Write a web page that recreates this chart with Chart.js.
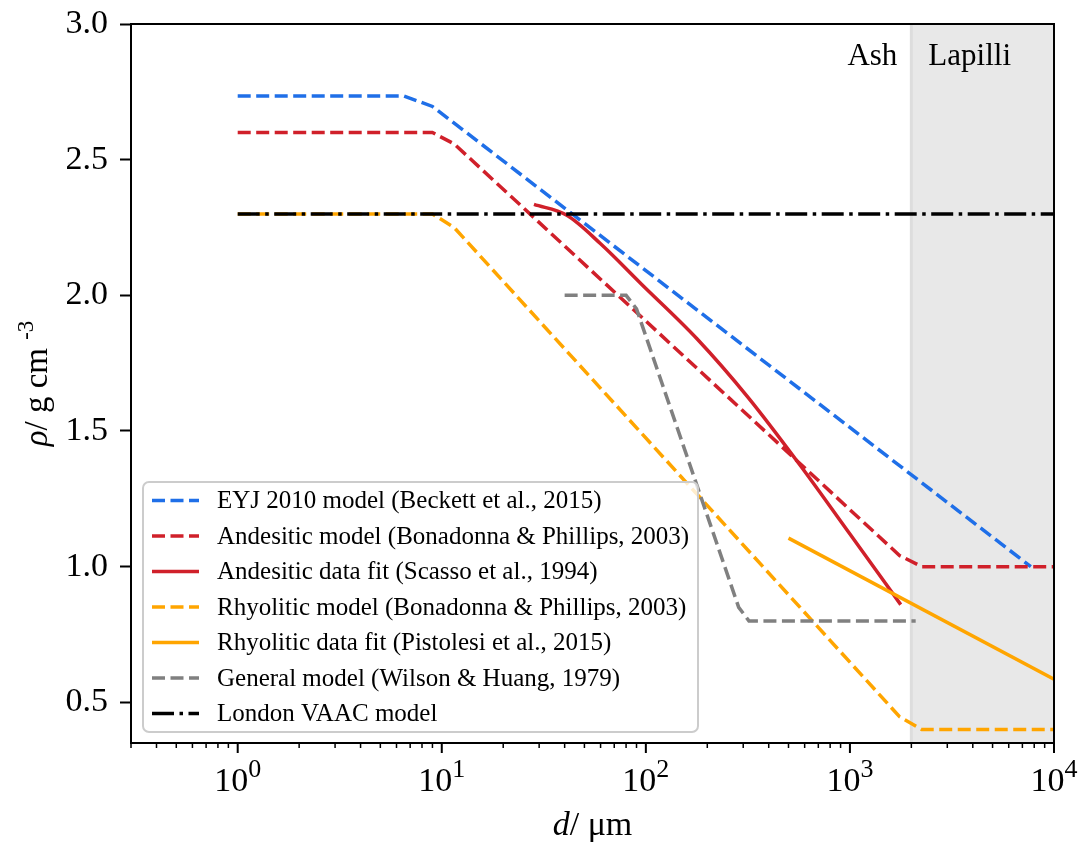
<!DOCTYPE html>
<html>
<head>
<meta charset="utf-8">
<script src="https://cdn.jsdelivr.net/npm/chart.js@4.4.0/dist/chart.umd.min.js"></script>
<style>
  html, body { margin: 0; padding: 0; background: #fff; }
  #wrap { width: 1089px; height: 842px; }
</style>
</head>
<body>
<div id="wrap"><canvas id="chart" width="1089" height="842"></canvas></div>
<script>
// grain size d (µm) and density rho (g/cm3)
const eyjD = [1, 6.5, 9, 7700];
const eyjRho = [2.735, 2.735, 2.696, 1.0];
const andModelD = [1, 9, 11.5, 1750, 2250, 10000];
const andModelRho = [2.6, 2.6, 2.558, 1.041, 1.0, 1.0];
const andFitD = [28.3, 41, 60, 95.5, 178, 316, 575, 1000, 1774];
const andFitRho = [2.335, 2.295, 2.19, 2.04, 1.84, 1.625, 1.37, 1.12, 0.86];
const rhyModelD = [1, 9, 11.5, 1750, 2250, 10000];
const rhyModelRho = [2.3, 2.3, 2.25, 0.447, 0.4, 0.4];
const rhyFitD = [500, 10000];
const rhyFitRho = [1.105, 0.585];
const generalD = [40, 80, 90, 285, 320, 2100];
const generalRho = [2.0, 2.0, 1.95, 0.85, 0.8, 0.8];
const vaacD = [1, 10000];
const vaacRho = [2.3, 2.3];

const seriesLabels = [
  'EYJ 2010 model (Beckett et al., 2015)',
  'Andesitic model (Bonadonna & Phillips, 2003)',
  'Andesitic data fit (Scasso et al., 1994)',
  'Rhyolitic model (Bonadonna & Phillips, 2003)',
  'Rhyolitic data fit (Pistolesi et al., 2015)',
  'General model (Wilson & Huang, 1979)',
  'London VAAC model'
];

const yTicks = [0.5, 1.0, 1.5, 2.0, 2.5, 3.0];
const xMajor = [1, 10, 100, 1000, 10000];
const xMajorExp = ['0', '1', '2', '3', '4'];
const ashLapilliBoundary = 2000;

const FONT = '"Liberation Serif", "DejaVu Serif", serif';
const DASH = [13, 5.5];
const DASHDOT = [22, 5.5, 3.5, 5.5];

function pts(xs, ys) {
  return xs.map((x, i) => ({ x: x, y: ys[i] }));
}

// minor ticks of the log axis
const xMinor = [];
[0.3, 0.4, 0.5, 0.6, 0.7, 0.8, 0.9].forEach(v => xMinor.push(v));
for (let k = 0; k < 4; k++) {
  for (let m = 2; m <= 9; m++) xMinor.push(m * Math.pow(10, k));
}

const datasets = [
  { label: seriesLabels[0], data: pts(eyjD, eyjRho), borderColor: '#1f6fe8', borderDash: DASH },
  { label: seriesLabels[1], data: pts(andModelD, andModelRho), borderColor: '#d0202a', borderDash: DASH },
  { label: seriesLabels[2], data: pts(andFitD, andFitRho), borderColor: '#d0202a', borderDash: [], cubicInterpolationMode: 'monotone' },
  { label: seriesLabels[3], data: pts(rhyModelD, rhyModelRho), borderColor: '#ffa500', borderDash: DASH },
  { label: seriesLabels[4], data: pts(rhyFitD, rhyFitRho), borderColor: '#ffa500', borderDash: [] },
  { label: seriesLabels[5], data: pts(generalD, generalRho), borderColor: '#808080', borderDash: DASH },
  { label: seriesLabels[6], data: pts(vaacD, vaacRho), borderColor: '#000000', borderDash: DASHDOT }
].map((ds, i, all) => Object.assign({
  borderWidth: 3.5,
  pointRadius: 0,
  fill: false,
  order: all.length - 1 - i // later series on top
}, ds));

// grey "lapilli" band behind the lines
const bandPlugin = {
  id: 'band',
  beforeDatasetsDraw(chart) {
    const { ctx, chartArea } = chart;
    const xs = chart.scales.x;
    const x0 = xs.getPixelForValue(ashLapilliBoundary);
    ctx.save();
    ctx.fillStyle = '#e8e8e8';
    ctx.fillRect(x0, chartArea.top, chartArea.right - x0, chartArea.bottom - chartArea.top);
    ctx.strokeStyle = '#dddddd';
    ctx.lineWidth = 3;
    ctx.beginPath();
    ctx.moveTo(x0, chartArea.top);
    ctx.lineTo(x0, chartArea.bottom);
    ctx.stroke();
    ctx.restore();
  }
};

// legend box, labels, frame and log axis ticks
const decorPlugin = {
  id: 'decor',
  afterDatasetsDraw(chart) {
    const { ctx, chartArea } = chart;
    const xs = chart.scales.x;
    ctx.save();

    // Ash / Lapilli
    const xb = xs.getPixelForValue(ashLapilliBoundary);
    ctx.fillStyle = '#000';
    ctx.font = '31px ' + FONT;
    ctx.textBaseline = 'alphabetic';
    ctx.textAlign = 'right';
    ctx.fillText('Ash', xb - 14, chartArea.top + 41);
    ctx.textAlign = 'left';
    ctx.fillText('Lapilli', xb + 17, chartArea.top + 41);

    // legend
    const bx = chartArea.left + 12, bw = 555, bh = 250;
    const by = chartArea.bottom - 11 - bh;
    ctx.beginPath();
    ctx.roundRect(bx, by, bw, bh, 6);
    ctx.fillStyle = 'rgba(255,255,255,0.8)';
    ctx.fill();
    ctx.strokeStyle = '#cccccc';
    ctx.lineWidth = 2;
    ctx.stroke();

    ctx.font = '25px ' + FONT;
    ctx.textBaseline = 'middle';
    ctx.textAlign = 'left';
    chart.data.datasets.forEach((ds, i) => {
      const cy = by + 18.5 + i * 35.5;
      ctx.save();
      ctx.strokeStyle = ds.borderColor;
      ctx.lineWidth = 3.5;
      ctx.setLineDash(ds.borderDash || []);
      ctx.beginPath();
      ctx.moveTo(bx + 9, cy);
      ctx.lineTo(bx + 56, cy);
      ctx.stroke();
      ctx.restore();
      ctx.fillStyle = '#000';
      ctx.fillText(ds.label, bx + 74, cy + 1);
    });

    // frame
    ctx.strokeStyle = '#000';
    ctx.lineWidth = 2;
    ctx.setLineDash([]);
    ctx.strokeRect(chartArea.left, chartArea.top, chartArea.right - chartArea.left, chartArea.bottom - chartArea.top);

    // x ticks
    ctx.beginPath();
    xMajor.forEach(v => {
      const px = xs.getPixelForValue(v);
      ctx.moveTo(px, chartArea.bottom);
      ctx.lineTo(px, chartArea.bottom + 10);
    });
    ctx.stroke();
    ctx.lineWidth = 1.5;
    ctx.beginPath();
    xMinor.forEach(v => {
      const px = xs.getPixelForValue(v);
      ctx.moveTo(px, chartArea.bottom);
      ctx.lineTo(px, chartArea.bottom + 5);
    });
    ctx.stroke();

    // x tick labels 10^n
    ctx.textBaseline = 'alphabetic';
    ctx.textAlign = 'left';
    xMajor.forEach((v, i) => {
      const px = xs.getPixelForValue(v);
      ctx.font = '34px ' + FONT;
      const w1 = ctx.measureText('10').width;
      ctx.font = '26px ' + FONT;
      const w2 = ctx.measureText(xMajorExp[i]).width;
      const x0 = px - (w1 + w2) / 2;
      const base = chartArea.bottom + 48;
      ctx.font = '34px ' + FONT;
      ctx.fillText('10', x0, base);
      ctx.font = '26px ' + FONT;
      ctx.fillText(xMajorExp[i], x0 + w1, base - 14);
    });

    // x title: d / µm
    const cx = (chartArea.left + chartArea.right) / 2;
    const parts = [
      { t: 'd', f: 'italic 34px ' + FONT },
      { t: '/ \u03bcm', f: '34px ' + FONT }
    ];
    let tw = 0;
    parts.forEach(p => { ctx.font = p.f; p.w = ctx.measureText(p.t).width; tw += p.w; });
    let xx = cx - tw / 2;
    parts.forEach(p => { ctx.font = p.f; ctx.fillText(p.t, xx, chartArea.bottom + 92); xx += p.w; });

    // y title: rho / g cm^-3
    const cyy = (chartArea.top + chartArea.bottom) / 2;
    ctx.translate(47, cyy);
    ctx.rotate(-Math.PI / 2);
    const yparts = [
      { t: '\u03c1', f: 'italic 33px ' + FONT, dy: 0 },
      { t: '/ g cm ', f: '33px ' + FONT, dy: 0 },
      { t: '-3', f: '23px ' + FONT, dy: -14 }
    ];
    tw = 0;
    yparts.forEach(p => { ctx.font = p.f; p.w = ctx.measureText(p.t).width; tw += p.w; });
    xx = -tw / 2;
    yparts.forEach(p => { ctx.font = p.f; ctx.fillText(p.t, xx, p.dy); xx += p.w; });

    ctx.restore();
  }
};

new Chart(document.getElementById('chart'), {
  type: 'line',
  data: { datasets: datasets },
  options: {
    responsive: false,
    animation: false,
    devicePixelRatio: 1,
    layout: { padding: { top: 24, right: 35, left: 0, bottom: 0 } },
    plugins: { legend: { display: false }, tooltip: { enabled: false } },
    scales: {
      x: {
        type: 'logarithmic',
        min: 0.3,
        max: 10000,
        ticks: { display: false },
        grid: { display: false },
        border: { display: false },
        afterFit(s) { s.height = 99; s.paddingLeft = 0; s.paddingRight = 0; }
      },
      y: {
        type: 'linear',
        min: 0.35,
        max: 3.0,
        afterBuildTicks(s) { s.ticks = yTicks.map(v => ({ value: v })); },
        afterFit(s) { s.width = 131; s.paddingTop = 0; s.paddingBottom = 0; },
        ticks: {
          color: '#000',
          font: { family: FONT, size: 34 },
          padding: 12,
          callback: v => v.toFixed(1)
        },
        grid: { drawOnChartArea: false, drawTicks: true, tickLength: 11, tickWidth: 2, tickColor: '#000' },
        border: { display: true, color: '#000', width: 2 }
      }
    }
  },
  plugins: [bandPlugin, decorPlugin]
});
</script>
</body>
</html>
